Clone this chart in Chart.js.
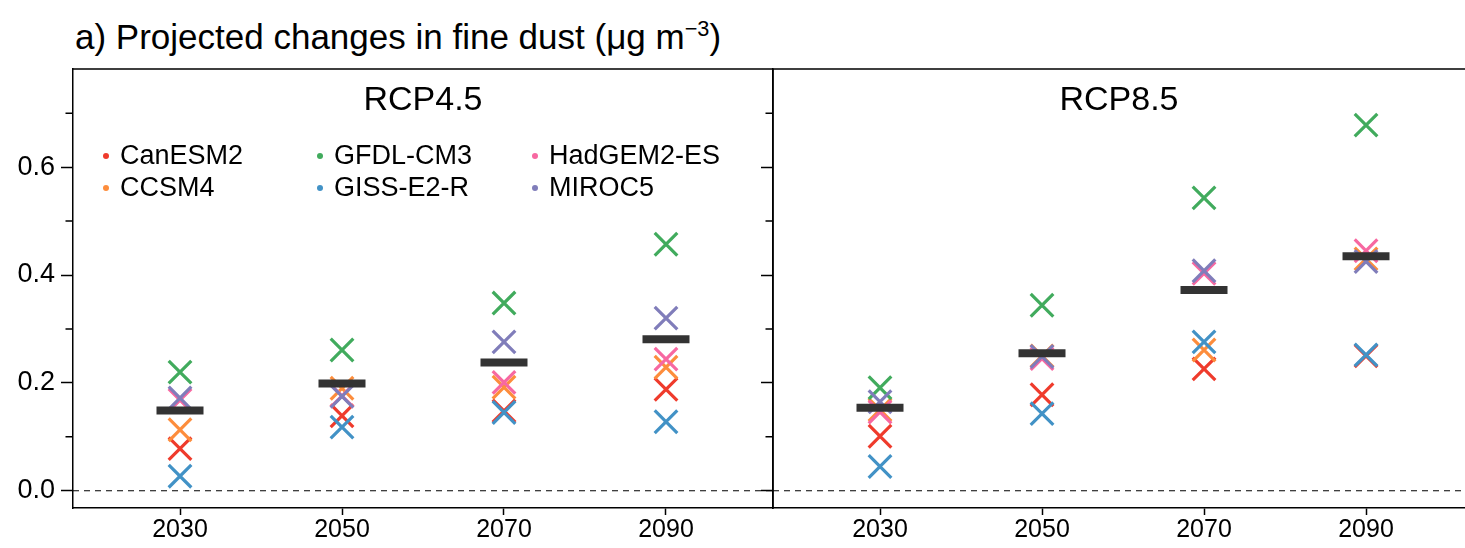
<!DOCTYPE html>
<html><head><meta charset="utf-8">
<script src="https://cdn.jsdelivr.net/npm/chart.js@4.4.1/dist/chart.umd.min.js"></script>
<style>
html,body{margin:0;padding:0;background:#fff;width:1465px;height:548px;overflow:hidden;}
#title{position:absolute;left:75px;top:19px;font-family:'Liberation Sans',Arial,sans-serif;font-size:35px;line-height:1;color:#000;white-space:nowrap;}
#title sup{font-size:0.62em;vertical-align:0.62em;line-height:0;}
#c1{position:absolute;left:0;top:0;}
#c2{position:absolute;left:761px;top:0;}
</style></head><body>
<div id="title">a) Projected changes in fine dust (μg m<sup>−3</sup>)</div>
<canvas id="c1" width="774" height="548"></canvas>
<canvas id="c2" width="704" height="548"></canvas>
<script>
const years = [2030, 2050, 2070, 2090];
const models = ['CanESM2', 'CCSM4', 'GFDL-CM3', 'GISS-E2-R', 'HadGEM2-ES', 'MIROC5'];
const modelColors = ['#ef3b2c', '#fd8d3c', '#41ab5d', '#4292c6', '#f768a1', '#807dba'];
const yTickLabels = ['0.0', '0.2', '0.4', '0.6'];
const yMajorTicks = [0, 0.2, 0.4, 0.6];
const yMinorTicks = [0.1, 0.3, 0.5, 0.7];

// RCP4.5 values per model (2030, 2050, 2070, 2090)
const rcp45_CanESM2   = [0.078, 0.139, 0.148, 0.188];
const rcp45_CCSM4     = [0.113, 0.190, 0.192, 0.229];
const rcp45_GFDL_CM3  = [0.220, 0.261, 0.348, 0.457];
const rcp45_GISS_E2_R = [0.027, 0.118, 0.145, 0.128];
const rcp45_HadGEM2_ES= [0.168, 0.176, 0.201, 0.244];
const rcp45_MIROC5    = [0.172, 0.175, 0.276, 0.320];
const rcp45_mean      = [0.149, 0.199, 0.238, 0.281];

// RCP8.5 values per model
const rcp85_CanESM2   = [0.101, 0.178, 0.226, 0.250];
const rcp85_CCSM4     = [0.150, 0.250, 0.261, 0.430];
const rcp85_GFDL_CM3  = [0.191, 0.344, 0.543, 0.678];
const rcp85_GISS_E2_R = [0.045, 0.143, 0.276, 0.252];
const rcp85_HadGEM2_ES= [0.146, 0.245, 0.403, 0.445];
const rcp85_MIROC5    = [0.165, 0.249, 0.408, 0.425];
const rcp85_mean      = [0.154, 0.255, 0.372, 0.435];

const rcp45 = [rcp45_CanESM2, rcp45_CCSM4, rcp45_GFDL_CM3, rcp45_GISS_E2_R, rcp45_HadGEM2_ES, rcp45_MIROC5];
const rcp85 = [rcp85_CanESM2, rcp85_CCSM4, rcp85_GFDL_CM3, rcp85_GISS_E2_R, rcp85_HadGEM2_ES, rcp85_MIROC5];

const FONT = "'Liberation Sans', Arial, sans-serif";
const AXIS_W = 1.5;

function makeDatasets(series, mean) {
  const ds = series.map((vals, i) => ({
    label: models[i],
    data: vals.map((v, j) => ({ x: years[j], y: v })),
    pointStyle: 'crossRot',
    radius: 16, hoverRadius: 16,
    borderWidth: 3.2, hoverBorderWidth: 3.2,
    borderColor: modelColors[i],
    backgroundColor: modelColors[i],
    showLine: false,
    order: models.length - i
  }));
  ds.push({
    label: 'mean',
    data: mean.map((v, j) => ({ x: years[j], y: v })),
    pointStyle: 'line',
    radius: 23.5, hoverRadius: 23.5,
    borderWidth: 8, hoverBorderWidth: 8,
    borderColor: '#333333',
    backgroundColor: '#333333',
    showLine: false,
    order: 0
  });
  return ds;
}

function decoPlugin(opts) {
  return {
    id: 'deco',
    beforeDatasetsDraw(chart) {
      const { ctx, chartArea: a, scales } = chart;
      const y0 = scales.y.getPixelForValue(0);
      ctx.save();
      ctx.strokeStyle = '#000';
      ctx.lineWidth = 1.2;
      ctx.setLineDash([6, 5]);
      ctx.beginPath();
      ctx.moveTo(a.left, y0);
      ctx.lineTo(a.right, y0);
      ctx.stroke();
      ctx.restore();
    },
    afterDraw(chart) {
      const { ctx, chartArea: a, scales } = chart;
      ctx.save();
      ctx.strokeStyle = '#000';
      ctx.lineWidth = AXIS_W;
      ctx.beginPath();
      ctx.moveTo(a.left, a.top);
      ctx.lineTo(a.right, a.top);
      if (opts.rightBorder) {
        ctx.moveTo(a.right, a.top);
        ctx.lineTo(a.right, a.bottom);
      }
      yMinorTicks.forEach(v => {
        const y = scales.y.getPixelForValue(v);
        ctx.moveTo(a.left - 7.5, y);
        ctx.lineTo(a.left, y);
      });
      ctx.stroke();
      ctx.fillStyle = '#000';
      ctx.font = '34px ' + FONT;
      ctx.textAlign = 'center';
      ctx.textBaseline = 'middle';
      ctx.fillText(opts.panelLabel, (a.left + a.right) / 2, 101);
      if (opts.legend) {
        ctx.font = '27px ' + FONT;
        ctx.textAlign = 'left';
        const colX = [a.left + 33, a.left + 247, a.left + 462];
        const rowY = [156, 188];
        models.forEach((m, i) => {
          const cx = colX[Math.floor(i / 2)];
          const cy = rowY[i % 2];
          ctx.beginPath();
          ctx.fillStyle = modelColors[i];
          ctx.arc(cx, cy, 3, 0, Math.PI * 2);
          ctx.fill();
          ctx.fillStyle = '#000';
          ctx.fillText(m, cx + 14, cy + 1);
        });
      }
      ctx.restore();
    }
  };
}

function makeChart(id, series, mean, o) {
  return new Chart(document.getElementById(id), {
    type: 'scatter',
    data: { datasets: makeDatasets(series, mean) },
    options: {
      responsive: false,
      animation: false,
      events: [],
      layout: { autoPadding: false, padding: { top: 69, right: o.padRight, left: 0, bottom: 0 } },
      plugins: { legend: { display: false }, tooltip: { enabled: false }, title: { display: false } },
      scales: {
        x: {
          type: 'linear',
          min: o.xMin, max: o.xMax,
          afterBuildTicks: s => { s.ticks = years.map(v => ({ value: v })); },
          afterFit: s => { s.height = 40; },
          ticks: { callback: v => String(v), color: '#000', font: { family: FONT, size: 25 }, padding: 0, maxRotation: 0, autoSkip: false },
          grid: { drawOnChartArea: false, drawTicks: true, tickLength: 7, tickColor: '#000', tickWidth: AXIS_W },
          border: { display: true, color: '#000', width: AXIS_W }
        },
        y: {
          type: 'linear',
          min: -0.032, max: 0.782,
          afterBuildTicks: s => { s.ticks = yMajorTicks.map(v => ({ value: v })); },
          afterFit: s => { s.width = o.yWidth; },
          ticks: { display: o.yLabels, callback: (v, i) => yTickLabels[i], color: '#000', font: { family: FONT, size: 27 }, padding: 6 },
          grid: { drawOnChartArea: false, drawTicks: true, tickLength: 12, tickColor: '#000', tickWidth: AXIS_W },
          border: { display: true, color: '#000', width: AXIS_W }
        }
      }
    },
    plugins: [decoPlugin(o)]
  });
}

makeChart('c1', rcp45, rcp45_mean, { xMin: 2016.79, xMax: 2103.21, padRight: 1, yWidth: 73, yLabels: true, legend: true, panelLabel: 'RCP4.5', rightBorder: true });
makeChart('c2', rcp85, rcp85_mean, { xMin: 2016.79, xMax: 2102.22, padRight: 0, yWidth: 12, yLabels: false, legend: false, panelLabel: 'RCP8.5' });
</script>
</body></html>
